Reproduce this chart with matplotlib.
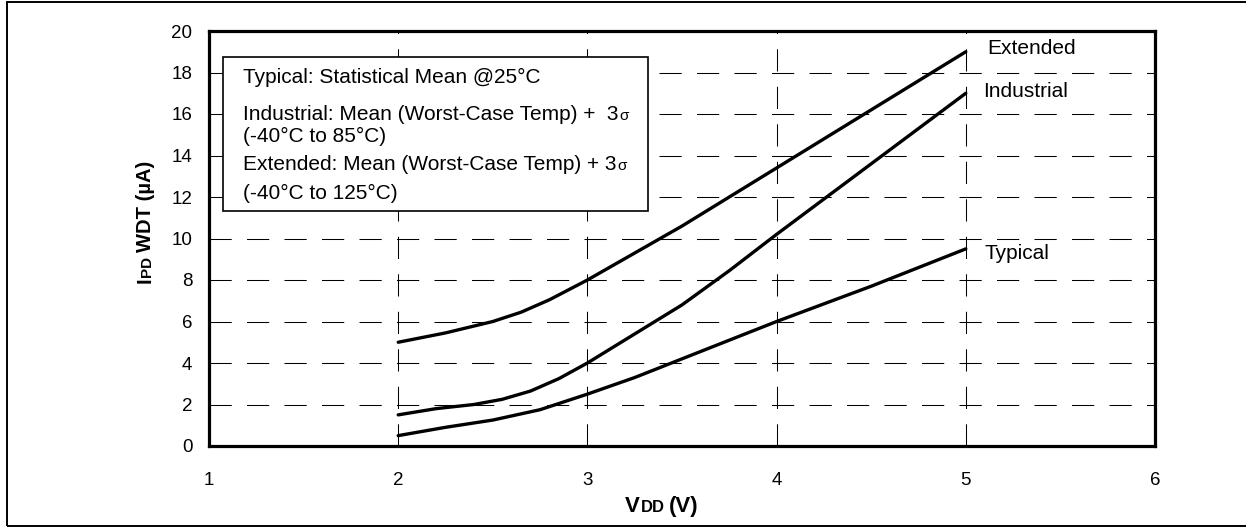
import matplotlib
matplotlib.use("Agg")
import matplotlib.pyplot as plt
import matplotlib.patches as patches

plt.rcParams["font.family"] = ["Liberation Sans", "DejaVu Sans"]
plt.rcParams["lines.scale_dashes"] = False

# data
vdd_typ = [2.0, 2.25, 2.5, 2.75, 3.0, 3.25, 3.5, 3.75, 4.0, 4.25, 4.5, 4.75, 5.0]
ipd_typ = [0.5, 0.9, 1.25, 1.75, 2.5, 3.3, 4.2, 5.1, 6.0, 6.85, 7.7, 8.6, 9.5]

vdd_ind = [2.0, 2.2, 2.4, 2.55, 2.7, 2.85, 3.0, 3.25, 3.5, 3.75, 4.0, 4.25, 4.5, 4.75, 5.0]
ipd_ind = [1.5, 1.8, 2.0, 2.25, 2.65, 3.25, 4.0, 5.4, 6.8, 8.45, 10.2, 11.9, 13.6, 15.3, 17.0]

vdd_ext = [2.0, 2.25, 2.5, 2.65, 2.8, 3.0, 3.25, 3.5, 3.75, 4.0, 4.25, 4.5, 4.75, 5.0]
ipd_ext = [5.0, 5.45, 6.0, 6.45, 7.05, 8.0, 9.3, 10.6, 12.0, 13.4, 14.8, 16.2, 17.6, 19.0]

curve_names = ["Extended", "Industrial", "Typical"]
x_ticks = [1, 2, 3, 4, 5, 6]
y_ticks = [0, 2, 4, 6, 8, 10, 12, 14, 16, 18, 20]

legend_lines = [
    ("Typical: Statistical Mean @25°C", ""),
    ("Industrial: Mean (Worst-Case Temp) +  3", "σ"),
    ("(-40°C to 85°C)", ""),
    ("Extended: Mean (Worst-Case Temp) + 3", "σ"),
    ("(-40°C to 125°C)", ""),
]

W, H = 1246, 527


def fx(px):
    return px / W


def fy(py):
    return 1 - py / H


fig = plt.figure(figsize=(W / 100, H / 100), dpi=100)
ax = fig.add_axes([fx(209), fy(446), fx(1155) - fx(209), fy(31) - fy(446)])

for xs, ys in [(vdd_ext, ipd_ext), (vdd_ind, ipd_ind), (vdd_typ, ipd_typ)]:
    ax.plot(xs, ys, color="black", linewidth=2.4, solid_capstyle="round",
            solid_joinstyle="round", zorder=3)

ax.set_xlim(1, 6)
ax.set_ylim(0, 20)
ax.set_xticks(x_ticks)
ax.set_yticks(y_ticks)
ax.tick_params(axis="both", length=0, labelsize=13.5)
ax.tick_params(axis="x", pad=19)
ax.tick_params(axis="y", pad=12)
ax.grid(True, color="black", linewidth=0.75, linestyle=(0, (16, 11)))
for s in ax.spines.values():
    s.set_linewidth(2.3)

# curve labels
label_pos = {"Extended": (5.112, 18.89), "Industrial": (5.091, 16.82), "Typical": (5.101, 9.01)}
for name in curve_names:
    x, y = label_pos[name]
    ax.text(x, y, name, fontsize=15, va="baseline", ha="left")

renderer = fig.canvas.get_renderer()

# note box
fig.add_artist(patches.Rectangle((fx(223), fy(211)), fx(648) - fx(223), fy(57) - fy(211),
                                 transform=fig.transFigure, facecolor="white",
                                 edgecolor="black", linewidth=1.2, zorder=1))
baselines = [83, 120, 142, 170, 199]
for (main, small), base in zip(legend_lines, baselines):
    t = fig.text(fx(243), fy(base), main, fontsize=15, va="baseline", ha="left", zorder=4)
    if small:
        bb = t.get_window_extent(renderer)
        fig.text(fx(bb.x1 + 1), fy(base), small, fontsize=11, va="baseline", ha="left", zorder=4)


def draw_pieces(x, y, pieces, rotation=0):
    # x, y in display pixels (origin bottom-left)
    for s, size, gap in pieces:
        t = fig.text(x / W, y / H, s, fontsize=size, fontweight="bold",
                     rotation=rotation, rotation_mode="anchor", ha="left", va="baseline")
        bb = t.get_window_extent(renderer)
        if rotation == 90:
            y += bb.height + gap
        else:
            x += bb.width + gap


draw_pieces(625, H - 512, [("V", 16, 0.5), ("DD", 12, 5), ("(V)", 16, 0)])
draw_pieces(151, H - 283, [("I", 14.5, 0.5), ("PD", 11, 4), ("WDT (µA)", 14.5, 0)], rotation=90)

# outer border
fig.add_artist(patches.Rectangle((fx(7), fy(526)), 1.2, fy(2) - fy(526),
                                 transform=fig.transFigure, fill=False,
                                 edgecolor="black", linewidth=1.4, zorder=5))

fig.savefig("out.png", dpi=100)
